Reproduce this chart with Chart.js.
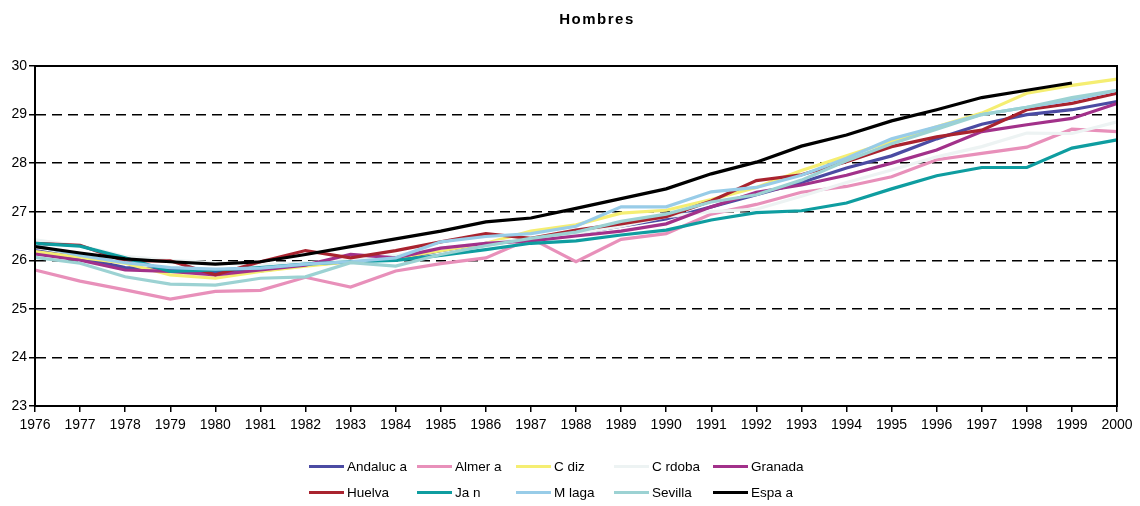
<!DOCTYPE html>
<html>
<head>
<meta charset="utf-8">
<script src="https://cdn.jsdelivr.net/npm/chart.js@4.4.0/dist/chart.umd.min.js"></script>
<style>
    body { margin: 0; background: #fff; font-family: "Liberation Sans", Arial, sans-serif; }
    #wrap { position: relative; width: 1140px; height: 506px; }
    #title { position: absolute; top: 10px; left: 0; width: 1194px; text-align: center; font-weight: bold; font-size: 15px; letter-spacing: 1.5px; }
    #legend { position: absolute; left: 309px; top: 457px; display: grid;
              grid-template-columns: 108px 99px 98px 99px 110px; row-gap: 8px; font-size: 13.5px; }
    .item { display: flex; align-items: center; height: 18px; white-space: nowrap; }
    .swatch { width: 35px; height: 3px; margin-right: 3px; }
</style>
</head>
<body>
<div id="wrap">
    <div id="title">Hombres</div>
    <canvas id="chart" width="1140" height="506"></canvas>
    <div id="legend"></div>
</div>
<script>
// Tick labels / categories
const years = ['1976', '1977', '1978', '1979', '1980', '1981', '1982', '1983', '1984', '1985', '1986', '1987',
    '1988', '1989', '1990', '1991', '1992', '1993', '1994', '1995', '1996', '1997', '1998', '1999', '2000'];

// Series values
const andalucia = [26.2, 26.05, 25.85, 25.8, 25.75, 25.78, 25.9, 25.97, 26.02, 26.2, 26.35, 26.42, 26.55, 26.7, 26.85, 27.1, 27.35, 27.6, 27.9, 28.15, 28.5, 28.8, 29.0, 29.1, 29.27];
const almeria = [25.8, 25.57, 25.39, 25.2, 25.36, 25.38, 25.65, 25.45, 25.78, 25.93, 26.05, 26.45, 25.97, 26.43, 26.55, 26.95, 27.15, 27.4, 27.52, 27.72, 28.07, 28.2, 28.33, 28.7, 28.65];
const cadiz = [26.18, 26.06, 25.94, 25.7, 25.63, 25.77, 25.88, 25.97, 26.05, 26.2, 26.35, 26.6, 26.73, 26.97, 27.03, 27.25, 27.5, 27.85, 28.15, 28.45, 28.75, 29.03, 29.44, 29.6, 29.73];
const cordoba = [26.42, 26.3, 26.08, 26.0, 25.95, 25.9, 25.95, 26.0, 26.1, 26.25, 26.35, 26.45, 26.55, 26.7, 26.9, 27.0, 27.05, 27.32, 27.6, 27.86, 28.13, 28.34, 28.62, 28.61, 28.85];
const granada = [26.13, 26.0, 25.8, 25.77, 25.7, 25.8, 25.9, 26.12, 26.05, 26.25, 26.35, 26.4, 26.5, 26.6, 26.75, 27.1, 27.4, 27.55, 27.75, 28.0, 28.27, 28.65, 28.79, 28.92, 29.23];
const huelva = [26.35, 26.31, 25.98, 25.99, 25.7, 25.97, 26.2, 26.05, 26.2, 26.38, 26.55, 26.45, 26.62, 26.75, 26.9, 27.22, 27.64, 27.76, 28.03, 28.34, 28.54, 28.68, 29.1, 29.23, 29.44];
const jaen = [26.35, 26.29, 26.05, 25.77, 25.8, 25.85, 25.92, 25.97, 26.0, 26.1, 26.22, 26.35, 26.4, 26.52, 26.62, 26.83, 26.98, 27.02, 27.18, 27.47, 27.74, 27.91, 27.91, 28.31, 28.48];
const malaga = [26.3, 26.1, 25.95, 25.85, 25.82, 25.84, 25.92, 25.97, 26.05, 26.38, 26.49, 26.55, 26.7, 27.1, 27.1, 27.41, 27.5, 27.75, 28.1, 28.5, 28.75, 29.0, 29.15, 29.3, 29.5];
const sevilla = [26.06, 25.94, 25.66, 25.51, 25.49, 25.63, 25.66, 25.95, 25.88, 26.12, 26.3, 26.45, 26.58, 26.8, 26.95, 27.2, 27.35, 27.65, 28.05, 28.4, 28.7, 29.0, 29.15, 29.35, 29.5];
const espana = [26.28, 26.15, 26.03, 25.97, 25.92, 25.97, 26.12, 26.28, 26.44, 26.6, 26.79, 26.87, 27.07, 27.27, 27.47, 27.78, 28.02, 28.35, 28.58, 28.87, 29.1, 29.35, 29.5, 29.65, null];

const seriesNames = ['Andaluc a', 'Almer a', 'C diz', 'C rdoba', 'Granada', 'Huelva', 'Ja n', 'M laga', 'Sevilla', 'Espa a'];
const seriesData = [andalucia, almeria, cadiz, cordoba, granada, huelva, jaen, malaga, sevilla, espana];
const seriesColors = ['#4B4BA3', '#E890BA', '#F5EE72', '#EDF3F3', '#A2318A', '#A9232F', '#0E9DA0', '#98CCE8', '#9CD2D3', '#000000'];

// Frame around the plot area
const framePlugin = {
    id: 'frame',
    afterDraw(chart) {
        const a = chart.chartArea;
        const ctx = chart.ctx;
        ctx.save();
        ctx.strokeStyle = '#000';
        ctx.lineWidth = 2;
        ctx.strokeRect(a.left, a.top, a.right - a.left, a.bottom - a.top);
        ctx.restore();
    }
};

const datasets = seriesNames.map((name, i) => ({
    label: name,
    data: seriesData[i],
    borderColor: seriesColors[i],
    backgroundColor: seriesColors[i],
    borderWidth: 3.2,
    pointRadius: 0,
    tension: 0,
    fill: false,
    order: seriesNames.length - i
}));

new Chart(document.getElementById('chart'), {
    type: 'line',
    data: { labels: years, datasets: datasets },
    plugins: [framePlugin],
    options: {
        responsive: false,
        animation: false,
        layout: { padding: { left: 0, right: 23, top: 66, bottom: 70 } },
        plugins: {
            legend: { display: false },
            title: { display: false },
            tooltip: { enabled: false }
        },
        scales: {
            x: {
                afterFit(scale) { scale.height = 30; },
                grid: { drawOnChartArea: false, color: '#000', tickLength: 6, lineWidth: 1.5 },
                border: { color: '#000', width: 2 },
                ticks: {
                    color: '#000', padding: 5, maxRotation: 0, autoSkip: false,
                    font: { family: '"Liberation Sans", Arial', size: 14 }
                }
            },
            y: {
                min: 23,
                max: 30,
                afterFit(scale) { scale.width = 35; },
                grid: { color: '#000', lineWidth: 1.5, tickLength: 6, tickBorderDash: [] },
                border: { color: '#000', width: 2, dash: [10, 6] },
                ticks: {
                    stepSize: 1, color: '#000', padding: 2,
                    font: { family: '"Liberation Sans", Arial', size: 14 }
                }
            }
        }
    }
});

// Legend in two rows of five
const legend = document.getElementById('legend');
seriesNames.forEach((name, i) => {
    const item = document.createElement('div');
    item.className = 'item';
    item.innerHTML = `<span class="swatch" style="background:${seriesColors[i]}"></span><span>${name}</span>`;
    legend.appendChild(item);
});
</script>
</body>
</html>
